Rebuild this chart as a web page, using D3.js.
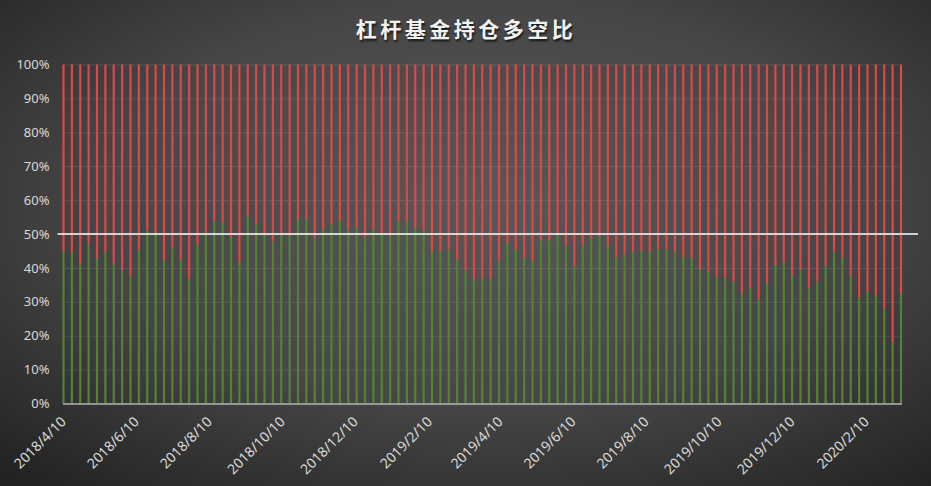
<!DOCTYPE html>
<html>
<head>
<meta charset="utf-8">
<script src="https://cdn.jsdelivr.net/npm/d3@7"></script>
<style>
  html, body { margin: 0; padding: 0; background: #2b2b2b; }
  svg { display: block; }
</style>
</head>
<body>
<div class="canvas"></div>
<script>
// weekly report dates (Tuesdays), first and last
const firstDate = new Date(2018, 3, 10)
const lastDate = new Date(2020, 2, 10)

// long share (green part) for each week, in %
const longPct = [
  44.8, 44.5, 41.2, 46.8, 42.7, 44.5, 41.2, 39.2, 37.7, 45.1,
  51.0, 50.1, 42.1, 46.0, 42.4, 36.8, 46.6, 50.4, 53.6, 53.3,
  48.9, 41.5, 55.1, 53.0, 49.8, 47.8, 50.1, 49.4, 54.2, 54.2,
  48.7, 51.1, 52.8, 53.6, 51.1, 51.7, 48.9, 51.1, 50.2, 49.5,
  53.6, 53.6, 51.7, 51.0, 44.8, 44.8, 45.4, 42.4, 39.2, 36.6,
  36.8, 36.8, 41.8, 47.0, 45.2, 42.8, 41.8, 48.1, 48.2, 49.5,
  46.4, 40.4, 46.6, 48.7, 49.3, 46.4, 43.0, 43.9, 44.6, 44.8,
  44.6, 45.4, 45.4, 44.6, 43.0, 42.8, 39.5, 38.7, 37.2, 36.9,
  35.7, 32.2, 34.1, 30.6, 35.3, 40.6, 41.6, 37.7, 39.3, 34.1,
  35.9, 40.6, 44.6, 43.0, 37.5, 31.2, 32.8, 31.8, 28.0, 18.0,
  32.2
]

// x axis labels
const tickDates = ['2018/4/10', '2018/6/10', '2018/8/10', '2018/10/10', '2018/12/10',
  '2019/2/10', '2019/4/10', '2019/6/10', '2019/8/10', '2019/10/10', '2019/12/10', '2020/2/10']

const yTicks = [0, 10, 20, 30, 40, 50, 60, 70, 80, 90, 100]
const refLine = 50

const width = 931
const height = 486
const plotLeft = 63.5, plotRight = 901, plotTop = 64.5, plotBottom = 403.5

const parseTick = d3.timeParse('%Y/%-m/%-d')
const dates = d3.timeTuesday.range(firstDate, d3.timeDay.offset(lastDate, 1))
const rows = dates.map((d, i) => ({ date: d, long: longPct[i], short: 100 - longPct[i] }))

const svg = d3.select('.canvas').append('svg')
    .attr('width', width)
    .attr('height', height)

// dark radial background
const defs = svg.append('defs')
const grad = defs.append('radialGradient')
    .attr('id', 'bg')
    .attr('cx', '52%').attr('cy', '42%').attr('r', '75%')
grad.append('stop').attr('offset', '0%').attr('stop-color', '#585858')
grad.append('stop').attr('offset', '55%').attr('stop-color', '#464646')
grad.append('stop').attr('offset', '100%').attr('stop-color', '#232323')

svg.append('rect')
    .attr('width', width)
    .attr('height', height)
    .attr('fill', 'url(#bg)')

const x = d3.scaleTime()
    .domain([firstDate, lastDate])
    .range([plotLeft, plotRight])

const y = d3.scaleLinear()
    .domain([0, 100])
    .range([plotBottom, plotTop])

// y axis + grid
const yAxis = svg.append('g')
    .attr('transform', `translate(${plotLeft},0)`)
    .call(d3.axisLeft(y).tickValues(yTicks).tickFormat(d => d + '%').tickSize(-(plotRight - plotLeft)).tickPadding(14))
yAxis.select('.domain').remove()
yAxis.selectAll('line')
    .attr('stroke', '#ffffff')
    .attr('stroke-opacity', 0.11)
yAxis.selectAll('text')
    .attr('fill', '#d9d9d9')
    .style('font-family', 'Noto Sans, sans-serif')
    .style('font-size', '13px')

// stacked bars
const stack = d3.stack().keys(['long', 'short'])(rows)
const colors = { long: '#548235', short: '#dc4848' }
const barW = 2.2

svg.append('g').selectAll('g')
  .data(stack)
  .join('g')
    .attr('fill', s => colors[s.key])
  .selectAll('rect')
  .data(s => s)
  .join('rect')
    .attr('x', d => x(d.data.date) - barW / 2)
    .attr('width', barW)
    .attr('y', d => y(d[1]))
    .attr('height', d => y(d[0]) - y(d[1]))

// bottom axis line
svg.append('line')
    .attr('x1', plotLeft - 0.5)
    .attr('x2', plotRight + 1)
    .attr('y1', y(0) + 0.5)
    .attr('y2', y(0) + 0.5)
    .attr('stroke', '#b0b0b0')
    .attr('stroke-width', 1.6)

// 50% reference line
svg.append('line')
    .attr('x1', 57.5)
    .attr('x2', 918)
    .attr('y1', y(refLine))
    .attr('y2', y(refLine))
    .attr('stroke', '#ffffff')
    .attr('stroke-width', 1.4)

// x axis labels
const xAxis = svg.append('g')
    .attr('transform', `translate(0,${plotBottom})`)
    .call(d3.axisBottom(x).tickValues(tickDates.map(parseTick)).tickFormat(d3.timeFormat('%Y/%-m/%-d')).tickSize(0))
xAxis.select('.domain').remove()
xAxis.selectAll('text')
    .attr('fill', '#d9d9d9')
    .style('font-family', 'Noto Sans, sans-serif')
    .style('font-size', '14px')
    .attr('text-anchor', 'end')
    .attr('dy', 0)
    .attr('y', 0)
    .attr('transform', 'translate(3,19) rotate(-45)')

// title
svg.append('text')
    .attr('x', 466)
    .attr('y', 37)
    .attr('text-anchor', 'middle')
    .attr('fill', '#f2f2f2')
    .style('font-family', 'Noto Sans CJK SC, sans-serif')
    .style('font-size', '21px')
    .style('font-weight', 'bold')
    .style('letter-spacing', '3.5px')
    .style('text-shadow', '1px 2px 2px rgba(0,0,0,0.7)')
    .text('杠杆基金持仓多空比')
</script>
</body>
</html>
